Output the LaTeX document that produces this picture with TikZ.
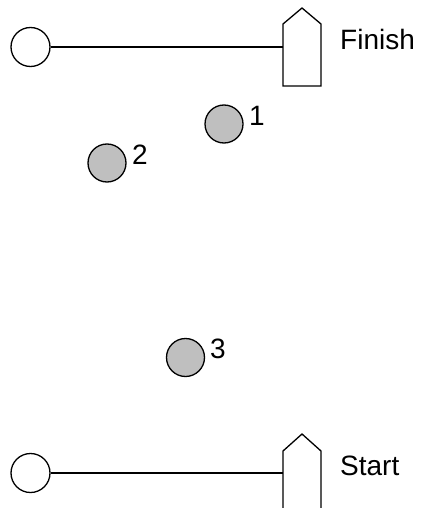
\documentclass[tikz,border=0pt]{standalone}
\usepackage{fontspec}
\setmainfont{Liberation Sans}
\usetikzlibrary{positioning}
\tikzset{
  buoy/.style={circle,draw,line width=1.3pt,inner sep=0pt,minimum size=39pt,fill=white},
  rounding/.style={circle,draw,line width=1.3pt,inner sep=0pt,minimum size=38pt,fill=gray!50},
  gate/.style={line width=1.3pt},
  lbl/.style={font=\fontsize{28}{32}\selectfont,inner sep=0pt,anchor=base west}
}
\begin{document}
\begin{tikzpicture}[x=1pt,y=-1pt]
    \useasboundingbox (0,0) rectangle (428,508);

    % Finish line
    \node[buoy] (fbuoy) at (30.5,47) {};
    \coordinate (fpost) at (283,47);
    \draw[gate] (fbuoy) -- (fpost);
    \draw[gate] (283,86) -- (283,24) -- (302,8) -- (321,24) -- (321,86) -- cycle;
    \node[lbl] (finish) at (340,50) {Finish};

    % Marks
    \node[rounding] (m1) at (224,124) {};
    \node[lbl] (l1) at (249,125) {1};
    \node[rounding] (m2) at (107,163) {};
    \node[lbl] (l2) at (132,164) {2};
    \node[rounding] (m3) at (185.5,357.5) {};
    \node[lbl] (l3) at (210,358) {3};

    % Start line
    \node[buoy] (sbuoy) at (30.5,473) {};
    \coordinate (spost) at (283,473);
    \draw[gate] (sbuoy) -- (spost);
    \draw[gate] (283,512) -- (283,451) -- (302,434) -- (321,451) -- (321,512);
    \node[lbl] (start) at (340,475) {Start};
\end{tikzpicture}
\end{document}
